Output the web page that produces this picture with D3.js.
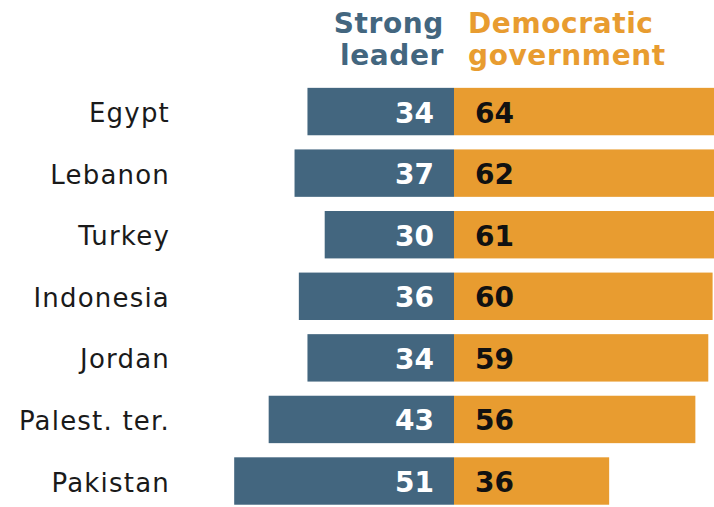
<!DOCTYPE html>
<html>
<head>
<meta charset="utf-8">
<script src="https://cdn.jsdelivr.net/npm/d3@7"></script>
<style>
  body { margin: 0; background: #fff; overflow: hidden; }
  svg { display: block; }
  text { font-family: "DejaVu Sans", Verdana, sans-serif; }
</style>
</head>
<body>
<svg id="chart" width="714" height="507"></svg>
<script>
var countries = ["Egypt", "Lebanon", "Turkey", "Indonesia", "Jordan", "Palest. ter.", "Pakistan"];
var strongLeader = [34, 37, 30, 36, 34, 43, 51];
var democratic = [64, 62, 61, 60, 59, 56, 36];
var seriesNames = [["Strong", "leader"], ["Democratic", "government"]];

var blue = "#43667f",
    orange = "#e89c30";

var svg = d3.select("#chart");
var mid = 454, unit = 4.31;

var x = d3.scaleLinear()
    .domain([-60, 70])
    .range([mid - 60 * unit, mid + 70 * unit]);

var step = 63.6, pad = 0.23;
var y = d3.scaleBand()
    .domain(countries)
    .range([81 - step * pad / 2, 81 - step * pad / 2 + countries.length * step])
    .padding(pad);

var rows = countries.map(function(c, i) {
    return { name: c, left: strongLeader[i], right: democratic[i] };
});

function mid_y(d) { return y(d.name) + y.bandwidth() / 2; }

// blue bars (left of centre)
svg.selectAll(".bar-left")
    .data(rows)
    .enter().append("rect")
    .attr("class", "bar-left")
    .attr("x", function(d) { return x(-d.left); })
    .attr("y", function(d) { return y(d.name); })
    .attr("width", function(d) { return x(0) - x(-d.left); })
    .attr("height", y.bandwidth())
    .attr("fill", blue);

// orange bars (right of centre)
svg.selectAll(".bar-right")
    .data(rows)
    .enter().append("rect")
    .attr("class", "bar-right")
    .attr("x", x(0))
    .attr("y", function(d) { return y(d.name); })
    .attr("width", function(d) { return x(d.right) - x(0); })
    .attr("height", y.bandwidth())
    .attr("fill", orange);

// values
svg.selectAll(".val-left")
    .data(rows)
    .enter().append("text")
    .attr("x", x(0) - 20)
    .attr("y", function(d) { return mid_y(d) + 11; })
    .attr("text-anchor", "end")
    .attr("font-size", 28)
    .attr("font-weight", "bold")
    .attr("fill", "#fff")
    .text(function(d) { return d.left; });

svg.selectAll(".val-right")
    .data(rows)
    .enter().append("text")
    .attr("x", x(0) + 21)
    .attr("y", function(d) { return mid_y(d) + 11; })
    .attr("font-size", 28)
    .attr("font-weight", "bold")
    .attr("fill", "#111")
    .text(function(d) { return d.right; });

// country labels
svg.selectAll(".country")
    .data(rows)
    .enter().append("text")
    .attr("x", 170)
    .attr("y", function(d) { return mid_y(d) + 10.5; })
    .attr("text-anchor", "end")
    .attr("font-size", 26)
    .attr("letter-spacing", 1.2)
    .attr("fill", "#1a1a1a")
    .text(function(d) { return d.name; });

// column headers
var head = svg.append("g")
    .attr("font-size", 28)
    .attr("font-weight", "bold")
    .attr("letter-spacing", 0.6);
head.selectAll(".h-left")
    .data(seriesNames[0])
    .enter().append("text")
    .attr("x", x(0) - 10)
    .attr("y", function(d, i) { return 33 + i * 32; })
    .attr("text-anchor", "end")
    .attr("fill", blue)
    .text(function(d) { return d; });
head.selectAll(".h-right")
    .data(seriesNames[1])
    .enter().append("text")
    .attr("x", x(0) + 14)
    .attr("y", function(d, i) { return 33 + i * 32; })
    .attr("fill", orange)
    .text(function(d) { return d; });
</script>
</body>
</html>
